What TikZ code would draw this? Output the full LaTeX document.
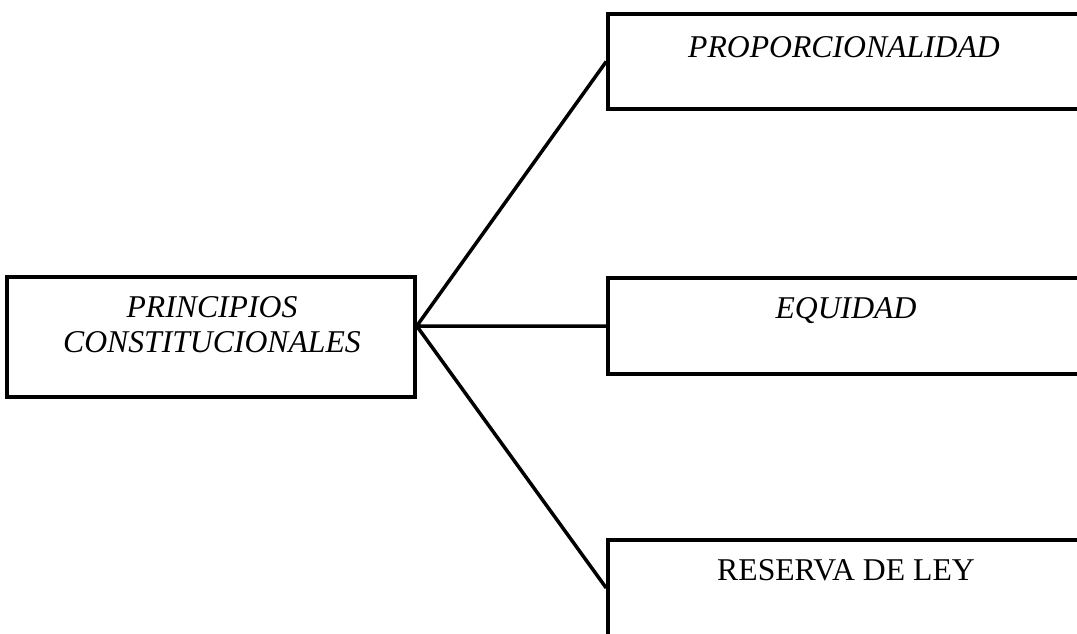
\documentclass[tikz,border=0pt]{standalone}
\usepackage{fontspec}
\setmainfont{Liberation Serif}
\begin{document}
\begin{tikzpicture}[x=1pt,y=-1pt,
  box/.style={draw=black,line width=3.5pt,rectangle,inner sep=0pt},
  txt/.style={font=\fontsize{31.7}{35}\selectfont,inner sep=0pt,anchor=base},
  link/.style={draw=black,line width=3.5pt}]
\useasboundingbox (0,0) rectangle (1077,633);
\node[box,minimum width=408pt,minimum height=120pt] (L) at (211,337) {};
\node[box,minimum width=472pt,minimum height=95pt] (T) at (844,61.5) {};
\node[box,minimum width=472pt,minimum height=96pt] (M) at (844,326) {};
\node[box,minimum width=472pt,minimum height=96pt] (B) at (844,588) {};
\node[txt,align=center,font=\fontsize{31.7}{35}\selectfont\itshape] (Lt) at (212,352) {PRINCIPIOS\\CONSTITUCIONALES};
\node[txt,font=\fontsize{31.7}{35}\selectfont\itshape] (Tt) at (844,57) {PROPORCIONALIDAD};
\node[txt,font=\fontsize{31.7}{35}\selectfont\itshape] (Mt) at (846,318) {EQUIDAD};
\node[txt] (Bt) at (846,580) {RESERVA DE LEY};
\coordinate (hub) at (L.east |- M.west);
\draw[link,line join=miter] (T.west) -- (hub) -- (M.west);
\draw[link] (hub) -- (B.west);
\end{tikzpicture}
\end{document}
